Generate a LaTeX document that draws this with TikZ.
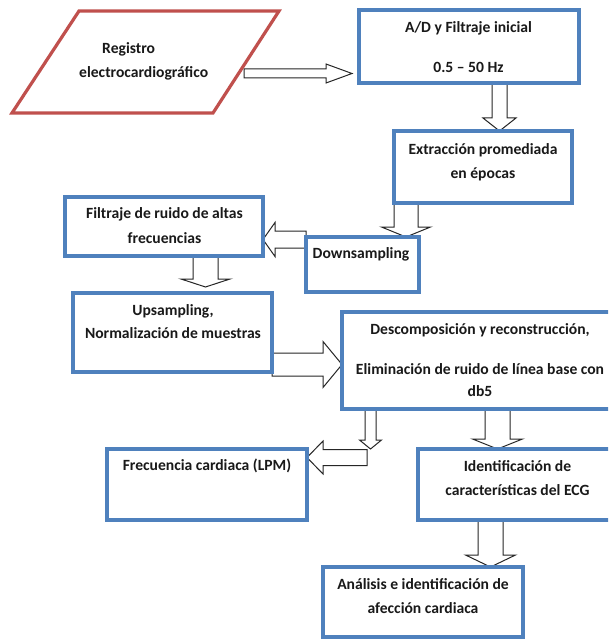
\documentclass[tikz,border=0pt]{standalone}
\usepackage{fontspec}
\setmainfont{Carlito}
\usetikzlibrary{calc}
\definecolor{boxblue}{HTML}{4F81BD}
\definecolor{parared}{HTML}{C0504D}
\pgfdeclarelayer{bgfill}
\pgfdeclarelayer{bg}
\pgfsetlayers{bgfill,bg,main}
% vertical (downward) block arrow: start, tip, shaft half width, head half width, head length
\newcommand\varr[5]{\draw[barrow] let \p1=(#1), \p2=(#2) in
  (\x2-#3pt,\y1) -- (\x2+#3pt,\y1) -- (\x2+#3pt,\y2+#5pt) -- (\x2+#4pt,\y2+#5pt) -- (\x2,\y2)
  -- (\x2-#4pt,\y2+#5pt) -- (\x2-#3pt,\y2+#5pt) -- cycle;}
% rightward block arrow
\newcommand\rarr[5]{\draw[barrow] let \p1=(#1), \p2=(#2) in
  (\x1,\y2+#3pt) -- (\x2-#5pt,\y2+#3pt) -- (\x2-#5pt,\y2+#4pt) -- (\x2,\y2)
  -- (\x2-#5pt,\y2-#4pt) -- (\x2-#5pt,\y2-#3pt) -- (\x1,\y2-#3pt) -- cycle;}
% leftward block arrow
\newcommand\larr[5]{\draw[barrow] let \p1=(#1), \p2=(#2) in
  (\x1,\y2+#3pt) -- (\x2+#5pt,\y2+#3pt) -- (\x2+#5pt,\y2+#4pt) -- (\x2,\y2)
  -- (\x2+#5pt,\y2-#4pt) -- (\x2+#5pt,\y2-#3pt) -- (\x1,\y2-#3pt) -- cycle;}
\begin{document}
\begin{tikzpicture}[x=1pt,y=-1pt,
  box/.style={draw=boxblue, line width=3.2pt, fill=white, inner sep=0pt, outer sep=0pt, rectangle},
  txt/.style={font=\fontsize{15.6}{18}\selectfont\bfseries, inner sep=0pt, text height=10.5pt, text depth=3.2pt, text=black!90},
  barrow/.style={draw=black!85, line width=1pt, fill=white, line join=miter}]
\useasboundingbox (0,0) rectangle (608,639);
\clip (0,0) rectangle (608,639);
\begin{pgfonlayer}{bgfill}
\fill[white] (0,0) rectangle (608,639);
\end{pgfonlayer}

% input parallelogram
\coordinate (p1) at (79,11);
\coordinate (p2) at (279,11);
\coordinate (p3) at (213,113);
\coordinate (p4) at (12,113);
\draw[draw=parared, line width=3.2pt, fill=white, line join=miter] (p1) -- (p2) -- (p3) -- (p4) -- cycle;
\node (reg) at (145,62) {};
\node[txt, anchor=west] (regA) at (102,50) {Registro};
\node[txt, anchor=west] (regB) at (79,74) {electrocardiográfico};

% boxes
\node[box, minimum width=220pt, minimum height=73pt] (ad) at (469,46.5) {};
\node[box, minimum width=178pt, minimum height=72pt] (ext) at (483,167) {};
\node[box, minimum width=113pt, minimum height=55pt] (down) at (362.5,264.5) {};
\node[box, minimum width=198pt, minimum height=59pt] (filt) at (164,226.5) {};
\node[box, minimum width=199pt, minimum height=79pt] (ups) at (172.5,332.5) {};
\node[box, minimum width=280pt, minimum height=97pt] (desc) at (482,360.5) {};
\node[box, minimum width=200pt, minimum height=71pt] (frec) at (207,484.5) {};
\node[box, minimum width=199pt, minimum height=71pt] (ident) at (517.5,484.5) {};
\node[box, minimum width=200pt, minimum height=70pt] (anal) at (423,602) {};

% texts
\node[txt] (adA) at (468.5,29) {A/D y Filtraje inicial};
\node[txt] (adB) at (468.5,69) {0.5 – 50 Hz};
\node[txt] (extA) at (483,151) {Extracción promediada};
\node[txt] (extB) at (483,175) {en épocas};
\node[txt] (downA) at (361,255) {Downsampling};
\node[txt] (filtA) at (164.5,215) {Filtraje de ruido de altas};
\node[txt] (filtB) at (164.5,240) {frecuencias};
\node[txt] (upsA) at (173,312) {Upsampling,};
\node[txt] (upsB) at (173,335) {Normalización de muestras};
\node[txt] (descA) at (480,331) {Descomposición y reconstrucción,};
\node[txt] (descB) at (480,371) {Eliminación de ruido de línea base con};
\node[txt] (descC) at (480,393) {db5};
\node[txt] (frecA) at (207,467) {Frecuencia cardiaca (LPM)};
\node[txt] (identA) at (517.5,468) {Identificación de};
\node[txt] (identB) at (517.5,492) {características del ECG};
\node[txt] (analA) at (423,586) {Análisis e identificación de};
\node[txt] (analB) at (423,610) {afección cardiaca};

% block arrows (behind boxes)
\begin{pgfonlayer}{bg}
\rarr{244,73.5}{352,73.5}{4.5}{9.5}{26}
\varr{499.5,0 |- ad.south}{499.5,0 |- ext.north}{7.5}{16.5}{13}
\varr{406,0 |- ext.south}{406,0 |- down.north}{12}{24.5}{10}
\larr{down.west |- 0,239.5}{263,239.5}{8.5}{17}{12}
\varr{205.5,0 |- filt.south}{205.5,287}{12.5}{24.5}{8}
\rarr{ups.east |- 0,364.5}{desc.west |- 0,364.5}{11.5}{23}{19}
\varr{370.5,0 |- desc.south}{370.5,0 |- frec.north}{5.5}{11}{9}
\larr{367,458}{frec.east |- 0,457.5}{8}{16.5}{16}
\varr{497.5,0 |- desc.south}{497.5,0 |- ident.north}{12.5}{25}{10}
\varr{490.5,0 |- ident.south}{490.5,0 |- anal.north}{12.5}{25}{12}
\end{pgfonlayer}
\end{tikzpicture}
\end{document}
